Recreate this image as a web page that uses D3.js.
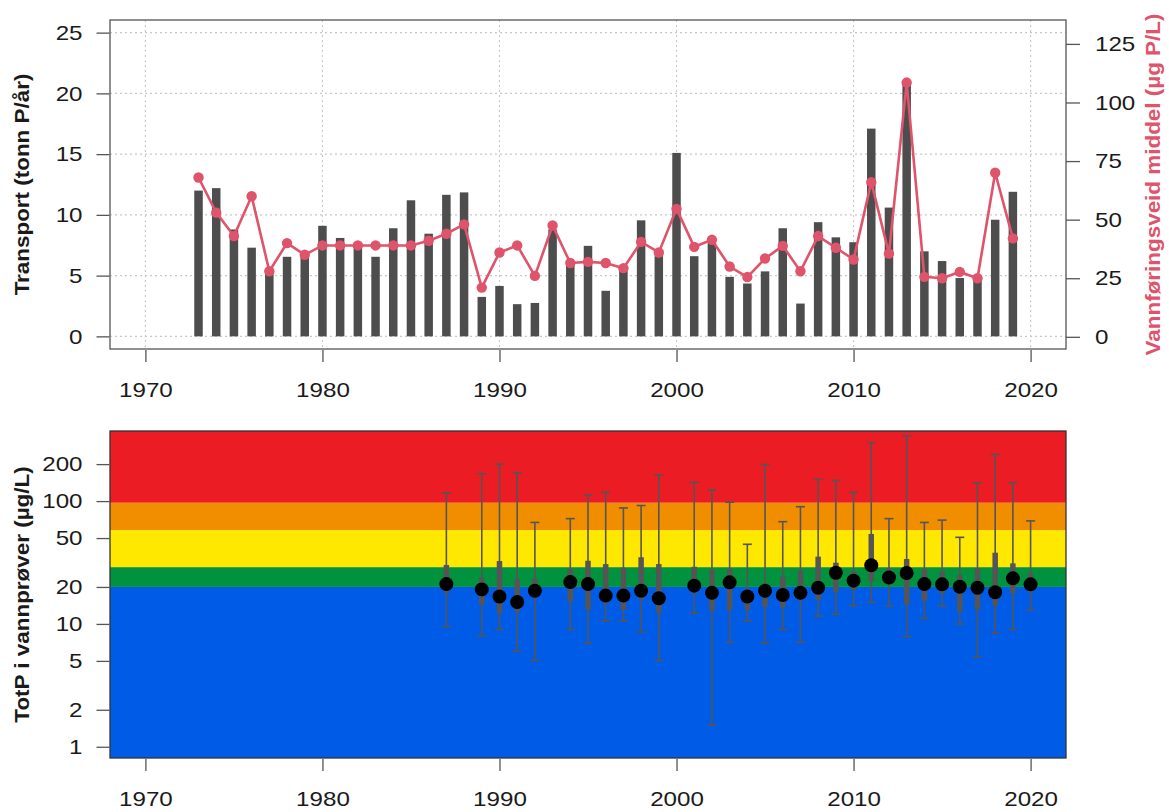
<!DOCTYPE html>
<html>
<head>
<meta charset="utf-8">
<script src="https://cdn.jsdelivr.net/npm/d3@7"></script>
<style>
  body { margin: 0; background: #fff; }
  text { font-family: "Liberation Sans", Arial, sans-serif; }
</style>
</head>
<body>
<script>
// ---- data ----
const years = [1973, 1974, 1975, 1976, 1977, 1978, 1979, 1980, 1981, 1982, 1983, 1984, 1985, 1986, 1987, 1988,
    1989, 1990, 1991, 1992, 1993, 1994, 1995, 1996, 1997, 1998, 1999, 2000, 2001, 2002, 2003, 2004,
    2005, 2006, 2007, 2008, 2009, 2010, 2011, 2012, 2013, 2014, 2015, 2016, 2017, 2018, 2019]

// tonn P/år
const transport = [12.0, 12.2, 8.8, 7.3, 5.5, 6.55, 6.8, 9.1, 8.1, 7.7, 6.55, 8.9, 11.2, 8.45, 11.65, 11.85,
    3.25, 4.15, 2.65, 2.75, 8.8, 6.2, 7.45, 3.75, 5.4, 9.55, 6.6, 15.1, 6.6, 7.7, 4.9, 4.35,
    5.35, 8.9, 2.7, 9.4, 8.15, 7.75, 17.1, 10.6, 20.8, 7.0, 6.2, 4.8, 4.9, 9.6, 11.9]

// µg P/L, vannføringsveid middel
const flowMean = [68, 53, 43, 60, 28, 40, 35, 39, 39, 39, 39, 39, 39, 41, 44, 48,
    21, 36, 39, 26, 47.5, 31.5, 32, 31.5, 29.3, 40.5, 36, 54.6, 38.4, 41.4, 30, 25.5,
    33.4, 38.8, 28, 43, 38, 33, 66, 35.5, 108.5, 25.6, 25, 27.7, 25, 70, 42]

// TotP in water samples, per year: min, lower, median, upper, max
const sampleYears = [1987, 1989, 1990, 1991, 1992, 1994, 1995, 1996, 1997, 1998, 1999, 2001, 2002, 2003, 2004,
    2005, 2006, 2007, 2008, 2009, 2010, 2011, 2012, 2013, 2014, 2015, 2016, 2017, 2018, 2019, 2020]
const sMin = [9.5, 8.0, 9.0, 6.0, 5.05, 9.0, 7.0, 10.6, 10.6, 8.6, 5.05, 12.2, 1.5, 7.1, 10.6,
    7.0, 9.0, 7.1, 11.6, 12.0, 14.1, 15.0, 14.0, 7.9, 11.1, 14.0, 10.0, 5.4, 8.4, 9.0, 13.0]
const sLow = [17.8, 14.3, 12.2, 12.6, 16.5, 15.2, 13.1, 14.7, 13.0, 15.9, 12.3, 17.8, 12.8, 13.0, 13.0,
    13.8, 13.7, 15.6, 15.7, 18.1, 18.9, 22.1, 21.4, 14.3, 15.4, 17.8, 12.6, 13.1, 14.1, 17.8, 18.3]
const sMed = [21.1, 19.1, 16.7, 15.1, 18.6, 21.9, 21.1, 17.0, 17.0, 18.6, 16.2, 20.5, 17.9, 21.8, 16.7,
    18.6, 17.2, 17.9, 19.7, 26.1, 22.5, 30.0, 23.9, 26.0, 21.1, 21.0, 20.1, 19.7, 18.1, 23.5, 21.0]
const sHigh = [30.2, 23.8, 32.5, 23.3, 23.3, 28.0, 32.7, 30.7, 28.7, 34.9, 30.7, 29.2, 27.6, 28.0, 19.0,
    21.4, 24.2, 27.1, 35.3, 31.5, 26.6, 54.0, 28.4, 33.8, 27.8, 26.6, 25.0, 28.4, 38.0, 31.1, 25.8]
const sMax = [116, 167, 200, 170, 67, 72, 112, 118, 88, 92, 163, 142, 123, 98, 44.5,
    198, 68, 90, 150, 147, 118, 299, 72, 339, 67, 70, 50.7, 141, 240, 141, 69]

// class limits (µg/L) and colours, bottom to top
const classLimits = [0.81, 20, 29, 58, 97, 372]
const classColors = ['#005ce6', '#00923f', '#ffe800', '#f18e00', '#eb1c24']

const xTicks = [1970, 1980, 1990, 2000, 2010, 2020]
const yLeftTicks = [0, 5, 10, 15, 20, 25]
const yRightTicks = [0, 25, 50, 75, 100, 125]
const yLogTicks = [1, 2, 5, 10, 20, 50, 100, 200]

// ---- layout ----
const W = 1169, H = 812
const plotL = 110, plotR = 1066
const top1 = 20, bot1 = 349
const top2 = 431, bot2 = 758
const axisCol = '#555'
const lineCol = '#df536b'
const stretch = 1.15   // the original glyphs are a bit wider than Liberation Sans

const svg = d3.select('body').append('svg')
    .attr('width', W).attr('height', H)

const x = d3.scaleLinear().domain([1968, 2022]).range([plotL, plotR])
const yL = d3.scaleLinear().domain([-1.04, 26.04]).range([bot1, top1])
const yR = d3.scaleLinear().domain([-5.2, 135.2]).range([bot1, top1])
const yLog = d3.scaleLog().domain([0.81, 372]).range([bot2, top2])

function widen(sel) {
    sel.each(function() {
        const w = this.getComputedTextLength()
        d3.select(this).attr('textLength', w * stretch).attr('lengthAdjust', 'spacingAndGlyphs')
    })
}

function styleAxis(g) {
    g.select('.domain').remove()
    g.selectAll('.tick line').attr('stroke', axisCol).attr('stroke-width', 1.3)
    g.selectAll('.tick text').attr('fill', '#1a1a1a').style('font-size', '21px').call(widen)
}

function axisTitle(g, tx, ty, label, color) {
    g.append('text')
        .attr('transform', `translate(${tx},${ty}) rotate(-90)`)
        .attr('text-anchor', 'middle')
        .style('font-size', '19.5px').style('font-weight', 'bold')
        .attr('fill', color)
        .text(label)
        .call(widen)
}

// ---------- top panel ----------
const p1 = svg.append('g').attr('class', 'panel-top')

// grid
const grid = p1.append('g').attr('class', 'grid')
grid.selectAll('.gy').data(yLeftTicks).enter().append('line')
    .attr('x1', plotL).attr('x2', plotR)
    .attr('y1', d => yL(d)).attr('y2', d => yL(d))
grid.selectAll('.gx').data(xTicks).enter().append('line')
    .attr('x1', d => x(d)).attr('x2', d => x(d))
    .attr('y1', top1).attr('y2', bot1)
grid.selectAll('line')
    .attr('stroke', '#c8c8c8').attr('stroke-width', 1.1).attr('stroke-dasharray', '2,3')

// bars
const halfBar = 0.24
p1.append('g').attr('class', 'bars')
    .selectAll('rect').data(years).enter().append('rect')
    .attr('x', d => x(d - halfBar))
    .attr('width', x(1 + halfBar) - x(1 - halfBar))
    .attr('y', (d, i) => yL(transport[i]))
    .attr('height', (d, i) => yL(0) - yL(transport[i]))
    .attr('fill', '#4d4d4d')

// line
const line = d3.line()
    .x((d, i) => x(years[i]))
    .y(d => yR(d))
p1.append('path').datum(flowMean)
    .attr('d', line)
    .attr('fill', 'none')
    .attr('stroke', lineCol)
    .attr('stroke-width', 2.6)
p1.append('g').attr('class', 'points')
    .selectAll('circle').data(flowMean).enter().append('circle')
    .attr('cx', (d, i) => x(years[i]))
    .attr('cy', d => yR(d))
    .attr('r', 5.2)
    .attr('fill', lineCol)

// box
p1.append('rect')
    .attr('x', plotL).attr('y', top1)
    .attr('width', plotR - plotL).attr('height', bot1 - top1)
    .attr('fill', 'none').attr('stroke', axisCol).attr('stroke-width', 1.3)

// axes
p1.append('g').attr('transform', `translate(${plotL - 0.5},0)`)
    .call(d3.axisLeft(yL).tickValues(yLeftTicks).tickSize(13).tickPadding(14))
    .call(styleAxis)
p1.append('g').attr('transform', `translate(${plotR},0)`)
    .call(d3.axisRight(yR).tickValues(yRightTicks).tickSize(14).tickPadding(15))
    .call(styleAxis)
p1.append('g').attr('transform', `translate(0,${bot1 + 1})`)
    .call(d3.axisBottom(x).tickValues(xTicks).tickFormat(d3.format('d')).tickSize(12).tickPadding(20))
    .call(styleAxis)

axisTitle(p1, 29, (top1 + bot1) / 2, 'Transport (tonn P/år)', '#1a1a1a')
axisTitle(p1, 1160, (top1 + bot1) / 2, 'Vannføringsveid middel (µg P/L)', lineCol)

// ---------- bottom panel ----------
const p2 = svg.append('g').attr('class', 'panel-bottom')

p2.append('g').attr('class', 'classes')
    .selectAll('rect').data(classColors).enter().append('rect')
    .attr('x', plotL).attr('width', plotR - plotL)
    .attr('y', (d, i) => yLog(classLimits[i + 1]))
    .attr('height', (d, i) => yLog(classLimits[i]) - yLog(classLimits[i + 1]))
    .attr('fill', d => d)

const whisk = p2.append('g').attr('class', 'samples')
const capW = 4.5
sampleYears.forEach((yr, i) => {
    const cx = x(yr)
    whisk.append('line')
        .attr('x1', cx).attr('x2', cx)
        .attr('y1', yLog(sMin[i])).attr('y2', yLog(sMax[i]))
        .attr('stroke', '#555').attr('stroke-width', 1.6)
    whisk.append('line')
        .attr('x1', cx - capW).attr('x2', cx + capW)
        .attr('y1', yLog(sMax[i])).attr('y2', yLog(sMax[i]))
        .attr('stroke', '#555').attr('stroke-width', 1.6)
    whisk.append('line')
        .attr('x1', cx - capW).attr('x2', cx + capW)
        .attr('y1', yLog(sMin[i])).attr('y2', yLog(sMin[i]))
        .attr('stroke', '#555').attr('stroke-width', 1.6)
    whisk.append('line')
        .attr('x1', cx).attr('x2', cx)
        .attr('y1', yLog(sLow[i])).attr('y2', yLog(sHigh[i]))
        .attr('stroke', '#555').attr('stroke-width', 5.5)
    whisk.append('circle')
        .attr('cx', cx).attr('cy', yLog(sMed[i]))
        .attr('r', 7)
        .attr('fill', '#000')
})

p2.append('rect')
    .attr('x', plotL).attr('y', top2)
    .attr('width', plotR - plotL).attr('height', bot2 - top2)
    .attr('fill', 'none').attr('stroke', '#333').attr('stroke-width', 1.3)

p2.append('g').attr('transform', `translate(${plotL - 0.5},0)`)
    .call(d3.axisLeft(yLog).tickValues(yLogTicks).tickFormat(d3.format('d')).tickSize(13).tickPadding(14))
    .call(styleAxis)
p2.append('g').attr('transform', `translate(0,${bot2 + 1})`)
    .call(d3.axisBottom(x).tickValues(xTicks).tickFormat(d3.format('d')).tickSize(12).tickPadding(20))
    .call(styleAxis)

axisTitle(p2, 29, (top2 + bot2) / 2, 'TotP i vannprøver (µg/L)', '#1a1a1a')
</script>
</body>
</html>
